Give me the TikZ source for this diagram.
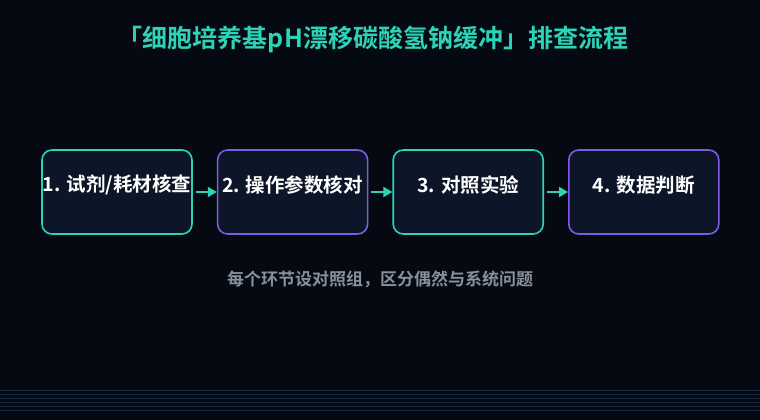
\documentclass[tikz,border=0pt]{standalone}
\usepackage{fontspec}
\setmainfont{Noto Sans CJK SC}
\newfontfamily\cjkbold{Noto Sans CJK SC Bold}
\usetikzlibrary{positioning,arrows.meta}
\definecolor{bgnavy}{HTML}{050912}
\definecolor{boxfill}{HTML}{0C1628}
\definecolor{tealline}{HTML}{2ED3B7}
\definecolor{purpline}{HTML}{7C5CE0}
\definecolor{notegray}{HTML}{8A909A}
\definecolor{gridline}{HTML}{16283A}

\tikzset{
  stepbox/.style={draw, line width=1.6pt, fill=boxfill, rounded corners=10pt,
    minimum width=150pt, minimum height=84pt, inner sep=0pt},
  tealbox/.style={stepbox, draw=tealline},
  purpbox/.style={stepbox, draw=purpline},
  steptext/.style={text=white, font=\cjkbold\fontsize{19.5pt}{22pt}\selectfont, inner sep=0pt},
  flowarrow/.style={draw=tealline, line width=2pt, -{Triangle[length=9pt,width=10pt]}}
}

\begin{document}
\begin{tikzpicture}[x=1pt,y=-1pt]
%%%%%BACKGROUND%%%%%%%%%
\fill[bgnavy] (0,0) rectangle (760,420);
\useasboundingbox (0,0) rectangle (760,420);
\foreach \gy in {390,394,...,410}
  \draw[gridline, line width=0.6pt] (0,\gy) -- (760,\gy);

%%%%%TITLE%%%%%%%%%
\node[text=tealline, font=\cjkbold\fontsize{25pt}{29pt}\selectfont] (title) at (373,39)
  {「细胞培养基pH漂移碳酸氢钠缓冲」排查流程};

%%%%%STEP BOXES%%%%%%%
\node[tealbox] (s1) at (117,192) {};
\node[purpbox, right=24pt of s1] (s2) {};
\node[tealbox, right=24pt of s2] (s3) {};
\node[purpbox, right=24pt of s3] (s4) {};

\node[steptext] (t1) at ([yshift=7pt]s1.center) {1. 试剂/耗材核查};
\node[steptext] (t2) at ([yshift=7pt]s2.center) {2. 操作参数核对};
\node[steptext] (t3) at ([yshift=7pt]s3.center) {3. 对照实验};
\node[steptext] (t4) at ([yshift=7pt]s4.center) {4. 数据判断};

%%%%%ARROWS%%%%%%%
\draw[flowarrow] ([xshift=3pt]s1.east) -- (s2.west);
\draw[flowarrow] ([xshift=3pt]s2.east) -- (s3.west);
\draw[flowarrow] ([xshift=3pt]s3.east) -- (s4.west);

%%%%%NOTE%%%%%%%
\node[text=notegray, font=\cjkbold\fontsize{17pt}{20pt}\selectfont] (note) at (380,279)
  {每个环节设对照组，区分偶然与系统问题};

\end{tikzpicture}
\end{document}
